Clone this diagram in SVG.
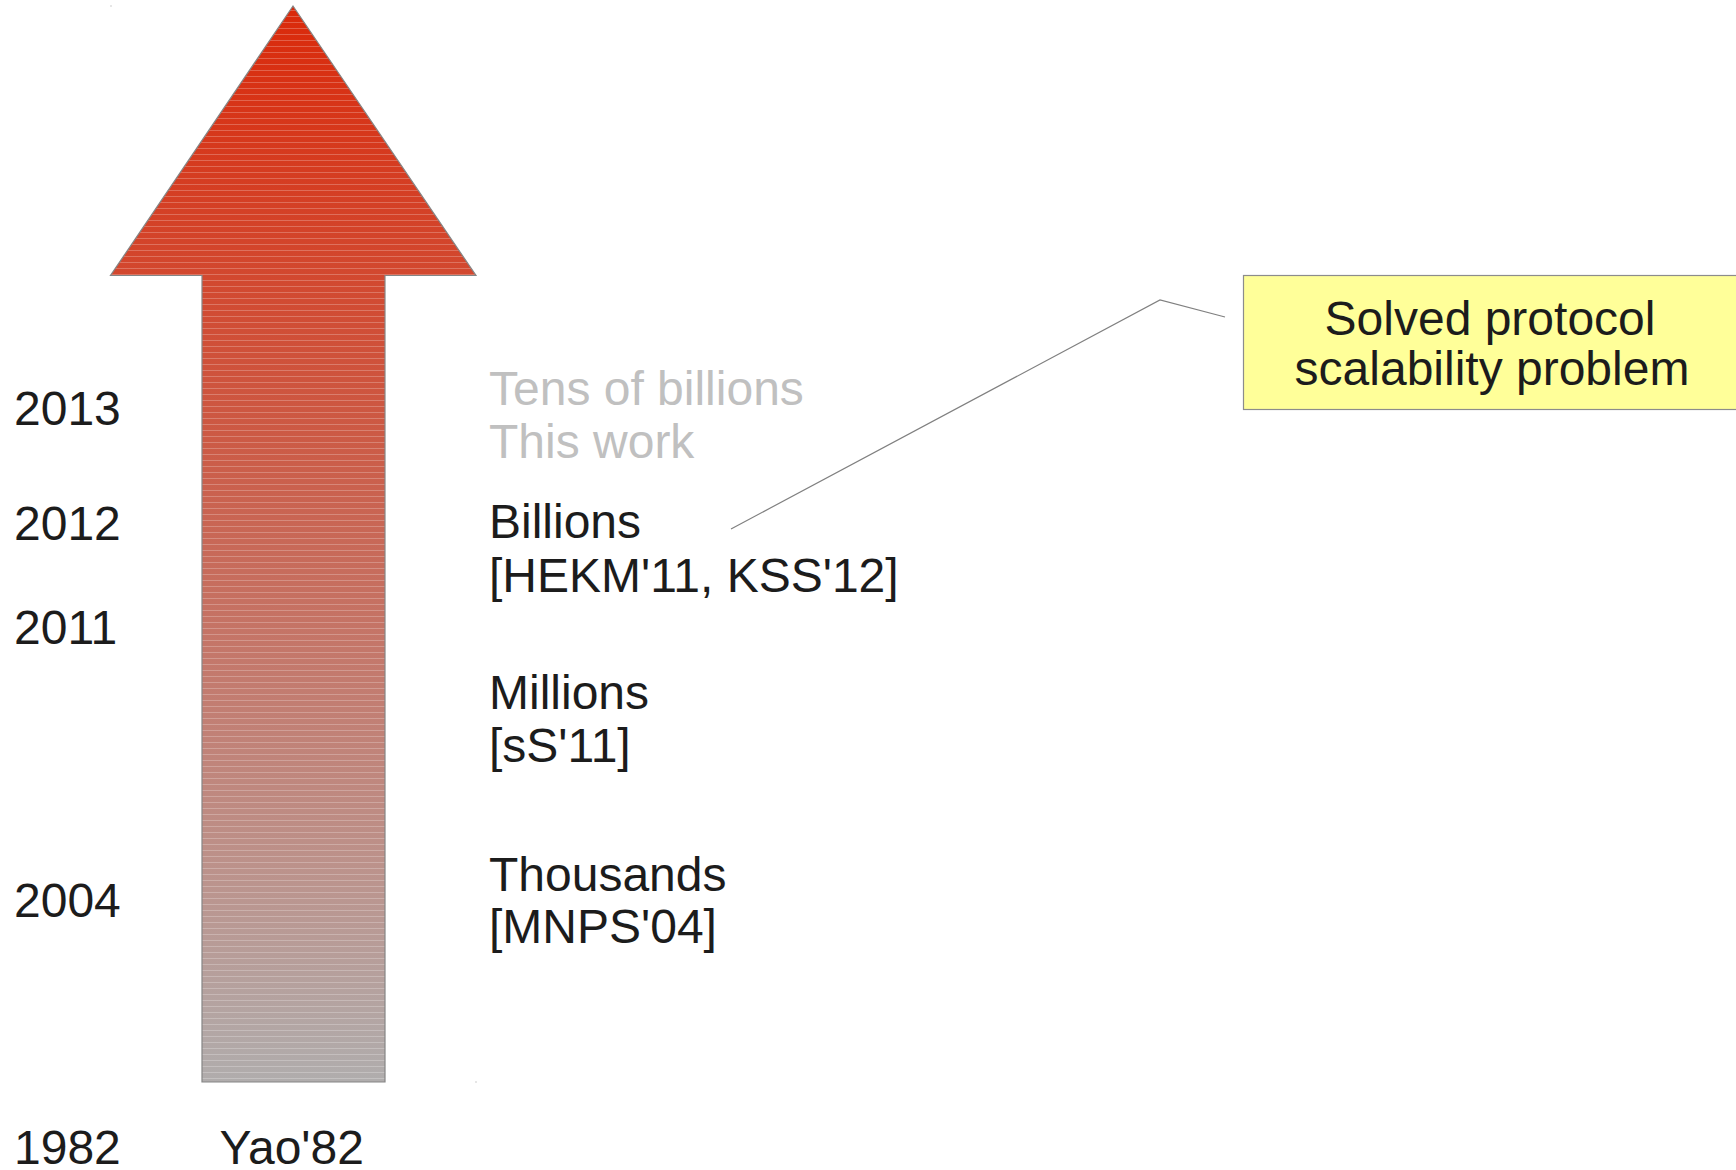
<svg xmlns="http://www.w3.org/2000/svg" width="1736" height="1170" viewBox="0 0 1736 1170">
  <style>
    text { font-family: "Liberation Sans", Arial, sans-serif; font-size: 48px; fill: #1c1c1c; }
    .faded { fill: #c0c0c0; }
    .connector { fill: none; stroke: #808080; stroke-width: 1.2; }
    .note { fill: #ffff99; stroke: #8c8c8c; stroke-width: 1.2; }
  </style>
  <defs>
    <linearGradient id="arrowFill" gradientUnits="userSpaceOnUse" x1="270" y1="6" x2="300" y2="1082">
      <stop offset="0" stop-color="#da290a"/>
      <stop offset="0.25" stop-color="#d2482f"/>
      <stop offset="0.4" stop-color="#cc5a45"/>
      <stop offset="0.6" stop-color="#c4776a"/>
      <stop offset="0.8" stop-color="#bc928b"/>
      <stop offset="1" stop-color="#b0adad"/>
    </linearGradient>
    <pattern id="bands" patternUnits="userSpaceOnUse" x="0" y="4" width="10" height="6">
      <rect x="0" y="0" width="10" height="1" fill="#ffffff" fill-opacity="0.24"/>
    </pattern>
  </defs>

  <!-- timeline arrow -->
  <g id="timeline-arrow">
    <polygon points="293,6 476,275.5 385,275.5 385,1082 202,1082 202,275.5 110.5,275.5" fill="url(#arrowFill)"/>
    <polygon points="293,6 476,275.5 385,275.5 385,1082 202,1082 202,275.5 110.5,275.5" fill="url(#bands)" stroke="#858585" stroke-width="1.2"/>
    <rect x="110.5" y="5.5" width="1" height="1" fill="#9a9a9a"/>
    <rect x="475.5" y="1081.5" width="1" height="1" fill="#9a9a9a"/>
  </g>

  <!-- years -->
  <g id="years">
    <text x="14" y="425">2013</text>
    <text x="14" y="540">2012</text>
    <text x="14" y="644">2011</text>
    <text x="14" y="917">2004</text>
    <text x="14" y="1164">1982</text>
  </g>

  <g id="label-yao">
    <text x="219.5" y="1164">Yao'82</text>
  </g>

  <g id="label-this-work">
    <text class="faded" x="489" y="405">Tens of billions</text>
    <text class="faded" x="489" y="458">This work</text>
  </g>

  <g id="label-billions">
    <text x="489" y="538">Billions</text>
    <text x="489" y="592">[HEKM'11, KSS'12]</text>
  </g>

  <g id="label-millions">
    <text x="489" y="709">Millions</text>
    <text x="489" y="762">[sS'11]</text>
  </g>

  <g id="label-thousands">
    <text x="489" y="891">Thousands</text>
    <text x="489" y="943">[MNPS'04]</text>
  </g>

  <!-- callout note -->
  <g id="note-scalability">
    <rect class="note" x="1243.5" y="275.5" width="494" height="134"/>
    <text x="1490" y="335" text-anchor="middle">Solved protocol</text>
    <text x="1492" y="385" text-anchor="middle">scalability problem</text>
  </g>

  <g id="connectors">
    <polyline class="connector" points="731,529 1160,300 1225,317"/>
  </g>
</svg>
